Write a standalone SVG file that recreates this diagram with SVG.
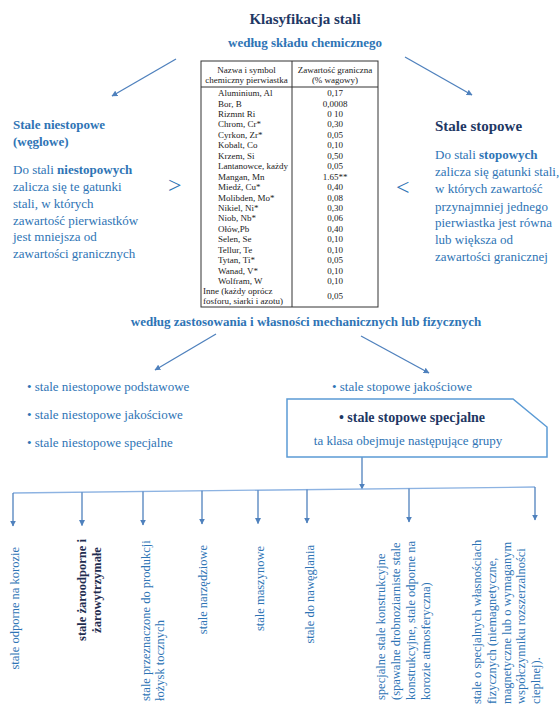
<svg xmlns="http://www.w3.org/2000/svg" width="559" height="708" viewBox="0 0 559 708">
<style>
text{font-family:"Liberation Serif","DejaVu Serif","Noto Serif",serif}
.t{fill:#1f3864;font-weight:bold}
.h{fill:#2e74b5;font-weight:bold;font-size:13px}
.b{fill:#2e74b5;font-size:13px}
.bb{font-weight:bold}
.tb{font-size:9px;fill:#222}
.c{text-anchor:middle}
.r{fill:#2e74b5;font-size:12.5px}
.rb{fill:#1f2d50;font-size:12.5px;font-weight:bold}
.big{font-size:24px}
.ar{stroke:#4f81bd;stroke-width:1.3;fill:none}
.hl{stroke:#8db3e2;stroke-width:1.3;fill:none}
</style>
<defs>
<marker id="ah" viewBox="0 0 10 10" refX="9" refY="5" markerWidth="6" markerHeight="6" orient="auto" markerUnits="userSpaceOnUse">
<path d="M0,0 L10,5 L0,10 z" fill="#4f81bd"/>
</marker>
</defs>
<rect width="559" height="708" fill="#fff"/>

<g id="title">
<text class="t c" x="305" y="24" font-size="15">Klasyfikacja stali</text>
<text class="h c" x="305" y="47">według składu chemicznego</text>
</g>

<g id="connectors">
<line class="ar" x1="176" y1="59" x2="112" y2="96" marker-end="url(#ah)"/>
<line class="ar" x1="405" y1="57" x2="472" y2="95" marker-end="url(#ah)"/>
<line class="ar" x1="216" y1="334" x2="155" y2="370" marker-end="url(#ah)"/>
<line class="ar" x1="361" y1="336" x2="429" y2="373" marker-end="url(#ah)"/>
<line class="ar" x1="362" y1="457" x2="362" y2="489" marker-end="url(#ah)"/>
<line class="hl" x1="13" y1="493" x2="535" y2="487"/>
<line class="ar" x1="13" y1="493" x2="13" y2="526" marker-end="url(#ah)"/>
<line class="ar" x1="82" y1="492.2" x2="82" y2="525.5" marker-end="url(#ah)"/>
<line class="ar" x1="143" y1="491.5" x2="143" y2="525" marker-end="url(#ah)"/>
<line class="ar" x1="202" y1="490.8" x2="202" y2="524" marker-end="url(#ah)"/>
<line class="ar" x1="258" y1="490.2" x2="258" y2="523.5" marker-end="url(#ah)"/>
<line class="ar" x1="307" y1="489.6" x2="307" y2="523" marker-end="url(#ah)"/>
<line class="ar" x1="409" y1="488.4" x2="409" y2="522" marker-end="url(#ah)"/>
<line class="ar" x1="535" y1="487" x2="535" y2="520" marker-end="url(#ah)"/>
</g>

<g id="table">
<rect x="201" y="61" width="177" height="246" fill="#fff" stroke="#333" stroke-width="1"/>
<line x1="292" y1="61" x2="292" y2="307" stroke="#333" stroke-width="1"/>
<line x1="201" y1="87" x2="378" y2="87" stroke="#333" stroke-width="1"/>
<text class="tb c" x="246.5" y="73">Nazwa i symbol</text>
<text class="tb c" x="246.5" y="83">chemiczny pierwiastka</text>
<text class="tb c" x="335" y="73">Zawartość graniczna</text>
<text class="tb c" x="335" y="83">(% wagowy)</text>
<g class="tb">
<text x="218" y="96">Aluminium, Al</text>
<text x="218" y="106.5">Bor, B</text>
<text x="218" y="117">Rizmnt Ri</text>
<text x="218" y="127.4">Chrom, Cr*</text>
<text x="218" y="137.8">Cyrkon, Zr*</text>
<text x="218" y="148.3">Kobalt, Co</text>
<text x="218" y="158.7">Krzem, Si</text>
<text x="218" y="169.2">Lantanowce, każdy</text>
<text x="218" y="179.6">Mangan, Mn</text>
<text x="218" y="190">Miedź, Cu*</text>
<text x="218" y="200.5">Molibden, Mo*</text>
<text x="218" y="211">Nikiel, Ni*</text>
<text x="218" y="221.4">Niob, Nb*</text>
<text x="218" y="231.9">Ołów,Pb</text>
<text x="218" y="242.3">Selen, Se</text>
<text x="218" y="252.8">Tellur, Te</text>
<text x="218" y="263.2">Tytan, Ti*</text>
<text x="218" y="273.7">Wanad, V*</text>
<text x="218" y="284.1">Wolfram, W</text>
<text x="203" y="294">Inne (każdy oprócz</text>
<text x="203" y="303.5">fosforu, siarki i azotu)</text>
</g>
<g class="tb c">
<text x="335" y="96">0,17</text>
<text x="335" y="106.5">0,0008</text>
<text x="335" y="117">0 10</text>
<text x="335" y="127.4">0,30</text>
<text x="335" y="137.8">0,05</text>
<text x="335" y="148.3">0,10</text>
<text x="335" y="158.7">0,50</text>
<text x="335" y="169.2">0,05</text>
<text x="335" y="179.6">1.65**</text>
<text x="335" y="190">0,40</text>
<text x="335" y="200.5">0,08</text>
<text x="335" y="211">0,30</text>
<text x="335" y="221.4">0,06</text>
<text x="335" y="231.9">0,40</text>
<text x="335" y="242.3">0,10</text>
<text x="335" y="252.8">0,10</text>
<text x="335" y="263.2">0,05</text>
<text x="335" y="273.7">0,10</text>
<text x="335" y="284.1">0,10</text>
<text x="335" y="299">0,05</text>
</g>
</g>

<g id="niestopowe">
<text class="h" x="13" y="129">Stale niestopowe</text>
<text class="h" x="13" y="146">(węglowe)</text>
<text class="b" x="13" y="174">Do stali <tspan class="bb">niestopowych</tspan></text>
<text class="b" x="13" y="191">zalicza się te gatunki</text>
<text class="b" x="13" y="207.5">stali, w których</text>
<text class="b" x="13" y="224.5">zawartość pierwiastków</text>
<text class="b" x="13" y="241">jest mniejsza od</text>
<text class="b" x="13" y="258">zawartości granicznych</text>
<text class="b big" x="168" y="193">&gt;</text>
</g>

<g id="stopowe">
<text class="t" x="435" y="131" font-size="15">Stale stopowe</text>
<text class="b" x="435" y="159">Do stali <tspan class="bb">stopowych</tspan></text>
<text class="b" x="435" y="176">zalicza się gatunki stali,</text>
<text class="b" x="435" y="193">w których zawartość</text>
<text class="b" x="435" y="210.5">przynajmniej jednego</text>
<text class="b" x="435" y="227">pierwiastka jest równa</text>
<text class="b" x="435" y="244">lub większa od</text>
<text class="b" x="435" y="261">zawartości granicznej</text>
<text class="b big" x="396" y="195">&lt;</text>
</g>

<g id="zastosowanie">
<text class="h c" x="306" y="326">według zastosowania i własności mechanicznych lub fizycznych</text>
</g>

<g id="niestopowe-klasy">
<text class="b" x="27" y="391">• stale niestopowe podstawowe</text>
<text class="b" x="27" y="419">• stale niestopowe jakościowe</text>
<text class="b" x="27" y="447">• stale niestopowe specjalne</text>
</g>

<g id="stopowe-klasy">
<text class="b" x="332" y="391">• stale stopowe jakościowe</text>
</g>

<g id="specjalne">
<path d="M287,399 H513 L547,427 V457 H287 Z" fill="#fff" stroke="#5b9bd5" stroke-width="1.5"/>
<text class="t c" x="412" y="422" font-size="14">• stale stopowe specjalne</text>
<text class="b c" x="408" y="445">ta klasa obejmuje następujące grupy</text>
</g>

<g id="grupa1"><text class="r" transform="translate(19,547) rotate(-90)" text-anchor="end">stale odporne na korozie</text></g>
<g id="grupa2">
<text class="rb" transform="translate(86,590) rotate(-90)" text-anchor="middle">stale żaroodporne i</text>
<text class="rb" transform="translate(101,590) rotate(-90)" text-anchor="middle">żarowytrzymałe</text>
</g>
<g id="grupa3">
<text class="r" transform="translate(150,701) rotate(-90)">stale przeznaczone do produkcji</text>
<text class="r" transform="translate(164,701) rotate(-90)">łożysk tocznych</text>
</g>
<g id="grupa4"><text class="r" transform="translate(207,545) rotate(-90)" text-anchor="end">stale narzędziowe</text></g>
<g id="grupa5"><text class="r" transform="translate(264,546) rotate(-90)" text-anchor="end">stale maszynowe</text></g>
<g id="grupa6"><text class="r" transform="translate(314,545) rotate(-90)" text-anchor="end">stale do nawęglania</text></g>
<g id="grupa7">
<text class="r" transform="translate(385,700) rotate(-90)">specjalne stale konstrukcyjne</text>
<text class="r" transform="translate(400,700) rotate(-90)">(spawalne drobnoziarniste stale</text>
<text class="r" transform="translate(415,700) rotate(-90)">konstrukcyjne, stale odporne na</text>
<text class="r" transform="translate(430,700) rotate(-90)">korozie atmosferyczna)</text>
</g>
<g id="grupa8">
<text class="r" transform="translate(481,704) rotate(-90)">stale o specjalnych własnościach</text>
<text class="r" transform="translate(496,704) rotate(-90)">fizycznych (niemagnetyczne,</text>
<text class="r" transform="translate(511,704) rotate(-90)">magnetyczne lub o wymaganym</text>
<text class="r" transform="translate(525,704) rotate(-90)">współczynniku rozszerzalności</text>
<text class="r" transform="translate(540,704) rotate(-90)">cieplnej).</text>
</g>
</svg>
